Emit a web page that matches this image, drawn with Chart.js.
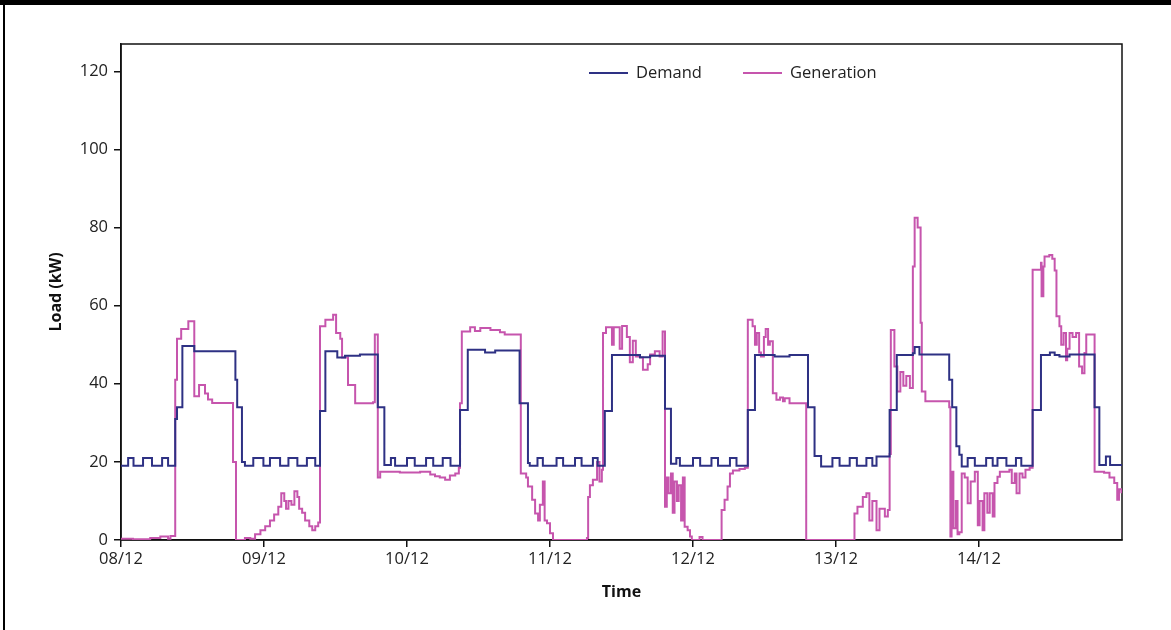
<!DOCTYPE html>
<html><head><meta charset="utf-8">
<script src="https://cdn.jsdelivr.net/npm/chart.js@4/dist/chart.umd.min.js"></script>
<style>html,body{margin:0;padding:0;background:#fff;overflow:hidden}#wrap{width:1171px;height:630px;position:relative}</style>
</head><body><div id="wrap"><canvas id="c" width="1171" height="630"></canvas></div>
<script>
const dayLabels = ['08/12','09/12','10/12','11/12','12/12','13/12','14/12'];
const yTicks = [0,20,40,60,80,100,120];
const seriesNames = ['Demand','Generation'];

const demandHours = [0,1.2,2.1,3.7,5.2,6.9,7.9,9.1,9.4,10.3,12.3,19.2,19.5,20.3,20.8,
 22.2,23.9,25.0,26.7,28.1,29.6,31.2,32.6,33.4,34.3,36.3,37.6,40.1,43.1,44.2,
 45.3,46.0,48.0,49.3,51.2,52.4,54.0,55.3,56.9,58.2,61.1,62.8,66.9,68.3,68.6,
 69.9,70.8,73.1,74.2,76.2,77.3,79.2,80.0,81.2,82.4,87.1,88.8,91.3,92.3,
 93.2,93.8,96.0,97.2,99.1,100.2,102.2,103.3,105.2,106.4,109.7,112.2,115.3,116.4,117.5,
 119.4,120.6,122.3,123.5,125.1,126.1,126.8,129.0,130.2,132.9,133.2,134.0,139.0,139.5,140.2,140.7,141.1,
 142.1,143.3,145.2,146.3,147.1,148.6,150.2,151.1,153.0,154.4,155.9,156.7,157.5,159.2,163.4,164.2,165.3,166.0,168];
const demandValues = [19,21,19,21,19,21,19,31,34,49.7,48.3,41,34,20,19,
 21,19,21,19,21,19,21,19,33,48.3,46.7,47.2,47.5,34,19.2,
 21,19,21,19,21,19,21,19,33.3,48.7,48,48.5,35,19.7,19,
 21,19,21,19,21,19,21,19,33,47.4,46.8,47.2,33.6,19.5,
 21,19,21,19,21,19,21,19,33.3,47.4,47,47.4,34,21.5,18.8,
 21,19,21,19,21,19,21.4,33.3,47.4,47.8,49.4,47.5,41,34,24,21.8,18.8,
 21,19,21,19,21,19,21,19,33.3,47.4,48,47.4,47,47.5,34,19.2,21.4,19.2,19];

const genHours = [0,2,4.9,6.6,7.9,8.3,9.1,9.4,10.1,11.3,12.3,13.1,14.1,14.6,15.3,18.8,19.3,20.8,21.7,
 22.5,23.4,24.2,25.0,25.7,26.4,26.9,27.4,27.7,28.1,28.6,29.1,29.6,29.9,30.4,30.9,31.6,32.1,32.6,33.1,
 33.4,34.3,35.6,36.1,36.8,37.1,38.1,39.3,42.3,42.6,43.1,43.5,46.8,50.2,51.9,52.7,53.5,54.4,55.2,56.1,56.7,
 56.9,57.2,58.6,59.4,60.3,62.0,63.6,64.4,67.1,68.0,68.3,69.0,69.5,70.0,70.3,70.8,71.1,71.5,72.0,72.5,
 78.2,78.4,78.7,79.2,79.9,80.3,80.7,80.9,81.4,82.4,82.7,83.7,84.1,84.9,85.4,85.9,86.4,87.1,87.6,88.4,88.8,89.6,90.4,90.9,
 91.3,91.6,91.9,92.3,92.6,92.9,93.3,93.6,94.0,94.3,94.6,95.1,95.5,95.8,97.1,97.6,
 100.8,101.3,101.8,102.2,102.7,103.8,104.7,105.2,106.0,106.4,106.7,107.1,107.4,107.9,108.2,108.6,108.9,
 109.4,110.0,110.6,111.1,111.4,112.2,115.0,123.1,123.6,124.5,125.1,125.6,126.1,126.8,127.3,128.2,128.7,129.0,129.2,
 129.8,130.3,130.8,131.3,131.8,132.4,132.9,133.2,133.7,134.2,134.4,135.0,139.0,139.2,139.4,139.7,140.1,140.4,140.7,
 141.1,141.6,142.1,142.6,143.3,143.8,144.1,144.6,144.9,145.4,145.8,146.3,146.6,147.1,147.5,149.1,149.5,150.0,150.3,150.8,151.3,151.8,152.5,
 153.0,154.4,154.5,154.8,155.0,155.8,156.3,156.7,157.0,157.5,157.8,158.2,158.6,158.8,159.2,159.7,160.3,160.8,161.3,161.7,162.0,
 163.4,165.0,165.9,166.7,167.2,167.5,167.9];
const genValues = [0.3,0.2,0.5,0.9,0.3,1,41,51.5,54,56,36.8,39.7,37.5,36,35.1,20,0,0.5,0.3,
 1.5,2.5,3.5,5,6.5,8.5,12,10,8,10,9,12.5,11,8,7,5,3.5,2.5,3.5,4.5,
 54.7,56.4,57.7,53,51.5,46.7,39.7,35,35.3,52.6,16,17.5,17.3,17.5,16.8,16.3,16,15.4,16.5,17,18.5,
 35,53.4,54.5,53.5,54.3,53.8,53.2,52.6,17,16,13.7,10.3,6.8,5,9,15,5,4.3,1.7,0,
 0.5,11,14,15.4,20,15,18,53,54.5,50,54.5,49,54.8,52,45.5,51,47,46.7,43.6,45,47.5,48.3,47,53.4,
 8.5,16,12,17,7,15,10,14,5,16,3.4,2.5,0.9,0,0.8,0,
 7.7,10.3,13.7,17,17.8,18.2,18.5,56.4,54.7,50,53,48,47,52,54,50,50.9,
 37.6,35.9,36.5,35.5,36.3,35,0,6.8,8.5,11,12,5,10,2.5,8,6,7.7,22,53.8,
 44.4,38,43,39.5,42,38.9,70,82.5,80,55.6,38,35.5,34,0.9,17.5,3,10,1.5,2,
 17,16,9.4,15,17.5,3.8,10,2.5,12,7,12,6,14.6,16.2,17.5,18,14.6,17,12,17,16,18,18.5,
 69.2,71,62.4,70,72.6,73,72,69,57.3,54.7,50,53,46,49,53,52,53,44.4,42.7,47.9,52.6,
 17.5,17.2,16,14.6,10.3,13,12];

const colors = ['#2e3184','#c655ad'];
const FONT = "'Open Sans', 'DejaVu Sans', sans-serif";

const framePlugin = {
  id: 'frame',
  beforeDraw(chart) {
    const c = chart.ctx;
    c.save();
    c.fillStyle = '#fff';
    c.fillRect(0, 0, chart.width, chart.height);
    c.fillStyle = '#000';
    c.fillRect(0, 0, chart.width, 5);
    c.fillRect(3, 0, 2, chart.height);
    c.restore();
  },
  beforeDatasetsDraw(chart) {
    const c = chart.ctx, a = chart.chartArea;
    c.save();
    c.strokeStyle = '#111';
    c.lineWidth = 1.5;
    c.strokeRect(a.left, a.top, a.right - a.left, a.bottom - a.top);
    c.restore();
  },
  afterDraw(chart) {
    const c = chart.ctx;
    c.save();
    const xs = [589, 743];
    c.font = '16.5px ' + FONT;
    c.textBaseline = 'middle';
    chart.data.datasets.forEach((ds, i) => {
      const x = xs[i], y = 73;
      c.strokeStyle = ds.borderColor;
      c.lineWidth = 2;
      c.beginPath(); c.moveTo(x, y); c.lineTo(x + 39, y); c.stroke();
      c.fillStyle = '#222';
      c.fillText(ds.label, x + 47, y);
    });
    c.restore();
  }
};

new Chart(document.getElementById('c'), {
  type: 'line',
  data: {
    datasets: [
      { label: seriesNames[0], data: demandHours.map((h, i) => ({x: h, y: demandValues[i]})),
        borderColor: colors[0], borderWidth: 2, pointRadius: 0, stepped: true, fill: false },
      { label: seriesNames[1], data: genHours.map((h, i) => ({x: h, y: genValues[i]})),
        borderColor: colors[1], borderWidth: 2, pointRadius: 0, stepped: true, fill: false }
    ]
  },
  options: {
    responsive: false, animation: false, devicePixelRatio: 1,
    layout: { padding: { top: 44, right: 49, left: 0, bottom: 0 } },
    plugins: { legend: { display: false }, tooltip: { enabled: false } },
    scales: {
      x: {
        type: 'linear', min: 0, max: 168,
        afterBuildTicks: s => { s.ticks = dayLabels.map((d, i) => ({ value: i * 24 })); },
        afterFit: s => { s.height = 90; },
        ticks: { callback: v => dayLabels[Math.round(v / 24)] || '', color: '#222', font: { family: FONT, size: 16.5 }, padding: 2, maxRotation: 0, autoSkip: false },
        grid: { drawOnChartArea: false, drawTicks: true, tickLength: 7, color: '#111', lineWidth: 1.5 },
        border: { color: '#111', width: 1.5 },
        title: { display: true, text: 'Time', color: '#111', font: { family: FONT, size: 16, weight: 'bold' }, padding: { top: 0, bottom: 28 } }
      },
      y: {
        min: 0, max: 127,
        afterBuildTicks: s => { s.ticks = yTicks.map(v => ({ value: v })); },
        afterFit: s => { s.width = 121; },
        ticks: { color: '#222', font: { family: FONT, size: 16.5 }, padding: 6 },
        grid: { drawOnChartArea: false, drawTicks: true, tickLength: 7, color: '#111', lineWidth: 1.5 },
        border: { color: '#111', width: 1.5 },
        title: { display: true, text: 'Load (kW)', color: '#111', font: { family: FONT, size: 16, weight: 'bold' }, padding: { top: 47, bottom: 0 } }
      }
    }
  },
  plugins: [framePlugin]
});
</script>
</body></html>
